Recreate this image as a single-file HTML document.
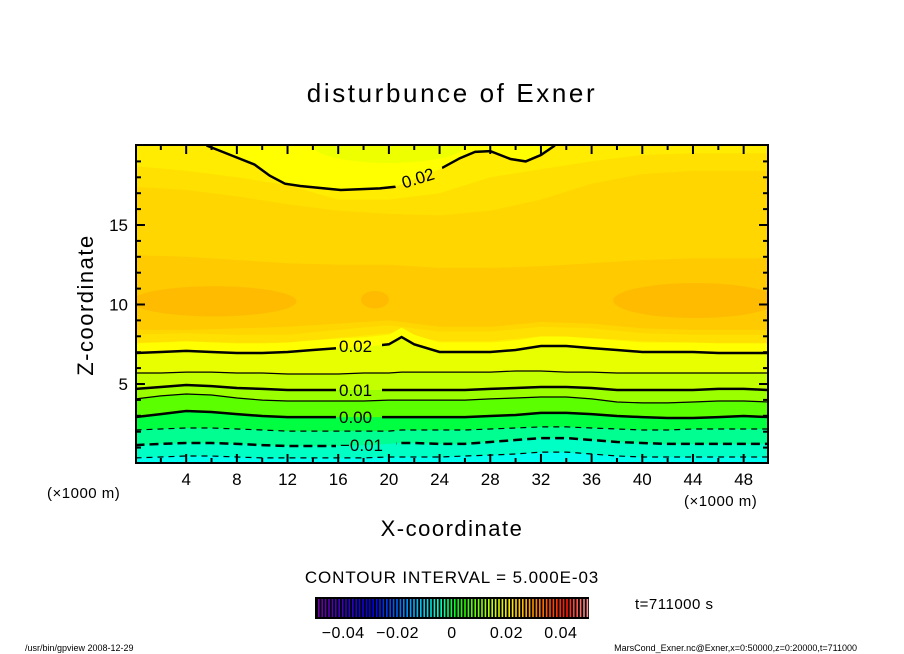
<!DOCTYPE html>
<html><head><meta charset="utf-8"><style>
body{margin:0;background:#fff;}
svg{display:block;font-family:"Liberation Sans",sans-serif;}
</style></head><body>
<svg id="chart" width="904" height="654" viewBox="0 0 904 654">
<text x="452" y="102" font-size="26" letter-spacing="2.6" text-anchor="middle">disturbunce of Exner</text>
<defs>
<clipPath id="pc"><rect x="136" y="145" width="632" height="318"/></clipPath>
<mask id="lm"><rect x="0" y="0" width="904" height="654" fill="#fff"/>
<rect x="336" y="334" width="46" height="20" fill="#000"/>
<rect x="336" y="379" width="46" height="20" fill="#000"/>
<rect x="336" y="406" width="46" height="20" fill="#000"/>
<rect x="336" y="434" width="60" height="20" fill="#000"/>
<rect x="394" y="162" width="50" height="28" fill="#000" transform="rotate(-17 418 178)"/>
</mask>
</defs>
<g id="fills" clip-path="url(#pc)"></g>
<g id="lines" clip-path="url(#pc)" mask="url(#lm)"></g>
<g font-size="17">
<text x="339" y="352">0.02</text>
<text x="339" y="396">0.01</text>
<text x="339" y="423">0.00</text>
<text x="340" y="451">−0.01</text>
<text x="418" y="184" text-anchor="middle" transform="rotate(-17 418 178)">0.02</text>
</g>
<rect x="136" y="145" width="632" height="318" fill="none" stroke="#000" stroke-width="2"/>
<g id="ticks" stroke="#000"></g>
<g id="tlabels" font-size="17"></g>
<text x="47" y="498" font-size="15" letter-spacing="0.5">(×1000 m)</text>
<text x="684" y="506" font-size="15" letter-spacing="0.5">(×1000 m)</text>
<text x="452" y="536" font-size="22" letter-spacing="1.5" text-anchor="middle">X-coordinate</text>
<text x="93" y="305" font-size="22" letter-spacing="1.5" text-anchor="middle" transform="rotate(-90 93 305)">Z-coordinate</text>
<text x="452" y="583" font-size="17" letter-spacing="0.9" text-anchor="middle">CONTOUR INTERVAL = 5.000E-03</text>
<rect x="315" y="597" width="274" height="22" fill="#000"/>
<g id="cbar"></g>
<g id="cblab" font-size="16" letter-spacing="0.5" text-anchor="middle"></g>
<text x="635" y="609" font-size="15" letter-spacing="0.5">t=711000 s</text>
<text x="25" y="651" font-size="9">/usr/bin/gpview   2008-12-29</text>
<text x="857" y="651" font-size="9" text-anchor="end">MarsCond_Exner.nc@Exner,x=0:50000,z=0:20000,t=711000</text>
</svg>
<script>
const xs=[0,2,4,6,8,10,12,14,16,18,20,21,22,24,26,28,30,32,34,36,38,40,42,44,46,48,50];
const c020=[6.95,7.01,7.08,7.01,6.95,6.95,7.01,7.14,7.26,7.33,7.5,7.95,7.5,7.01,7.01,7.01,7.14,7.39,7.39,7.26,7.14,7.01,7.01,7.01,6.95,6.95,6.95];
const c015=[5.69,5.69,5.75,5.75,5.69,5.69,5.63,5.63,5.63,5.69,5.69,5.75,5.75,5.75,5.75,5.75,5.82,5.82,5.75,5.75,5.69,5.69,5.69,5.69,5.69,5.69,5.69];
const c010=[4.69,4.81,4.94,4.87,4.75,4.69,4.62,4.62,4.62,4.62,4.62,4.62,4.62,4.62,4.62,4.69,4.75,4.81,4.81,4.75,4.62,4.62,4.62,4.62,4.69,4.69,4.62];
const c005=[4.06,4.25,4.37,4.31,4.12,3.99,3.93,3.93,3.93,3.93,3.99,3.99,3.99,3.99,3.99,4.06,4.12,4.18,4.18,4.06,3.87,3.81,3.81,3.87,3.93,3.93,3.87];
const c000=[2.92,3.11,3.30,3.24,3.11,2.99,2.92,2.92,2.92,2.92,2.92,2.92,2.92,2.92,2.92,2.99,3.05,3.18,3.18,3.11,2.99,2.92,2.86,2.86,2.92,2.99,2.92];
const cm005=[2.11,2.17,2.23,2.23,2.17,2.11,2.04,2.04,2.04,2.04,2.04,2.11,2.11,2.11,2.11,2.17,2.23,2.30,2.30,2.23,2.17,2.11,2.11,2.17,2.17,2.17,2.17];
const cm010=[1.16,1.23,1.29,1.29,1.23,1.16,1.10,1.10,1.10,1.16,1.23,1.29,1.29,1.23,1.23,1.35,1.48,1.60,1.60,1.48,1.35,1.29,1.23,1.23,1.23,1.23,1.23];
const cm015=[0.35,0.41,0.47,0.47,0.41,0.35,0.35,0.35,0.35,0.35,0.41,0.41,0.41,0.41,0.47,0.53,0.60,0.72,0.72,0.60,0.47,0.41,0.41,0.41,0.41,0.41,0.41];
const xTop=[5.6,7.5,9.4,10.6,11.8,13,16.2,19.3,20.5,24,25.6,26.8,28,29.6,30.8,32,33.1];
const zTop=[20,19.4,18.8,18.1,17.6,17.45,17.2,17.3,17.4,18.5,19.2,19.6,19.65,19.15,19.0,19.4,20];
const shadeXs=[0,4,8,12,16,20,24,28,32,36,40,44,50];
const shAlo=[7.6,7.7,7.6,7.6,7.9,8.2,7.7,7.7,8.0,7.9,7.7,7.6,7.6];
const shAhi=[18.7,18.4,18.0,17.5,16.6,16.6,17.0,18.0,18.5,19.0,19.4,19.5,19.5];
const shBlo=[8.1,8.2,8.1,8.1,8.4,8.7,8.3,8.3,8.6,8.5,8.2,8.1,8.1];
const shBhi=[17.4,17.2,16.8,16.3,15.9,15.7,15.6,15.9,16.6,17.6,18.2,18.4,18.4];
const shClo=[8.4,8.4,8.5,8.6,8.8,9.0,8.6,8.6,8.9,8.8,8.5,8.4,8.4];
const shChi=[13.1,13.0,12.8,12.6,12.5,12.5,12.3,12.3,12.4,12.6,12.8,12.9,12.9];
const blobCx=[6.2,18.9,44.2];
const blobCz=[10.2,10.3,10.25];
const blobRx=[6.5,1.1,6.5];
const blobRz=[0.95,0.55,1.1];
const cbTicks=[-0.04,-0.02,0,0.02,0.04];
const cbText=["−0.04","−0.02","0","0.02","0.04"];
const xTicks=[4,8,12,16,20,24,28,32,36,40,44,48];
const zTicks=[5,10,15];

const NS="http://www.w3.org/2000/svg";
const X=x=>135.5+x*12.67, Z=z=>463.5-z*15.9;
function mk(tag,attrs,parent){const e=document.createElementNS(NS,tag);for(const k in attrs)e.setAttribute(k,attrs[k]);parent.appendChild(e);return e;}
const F=document.getElementById('fills'),L=document.getElementById('lines');
function pts(xa,za){return xa.map((x,i)=>X(x).toFixed(1)+','+Z(za[i]).toFixed(1));}
function band(xa,lo,hi,col,name){
  const p=pts(xa,hi).concat(pts(xa,lo).reverse());
  const e=mk('polygon',{points:p.join(' '),fill:col},F);
  
  
}
function below(za,col,name){
  const p=pts(xs,za).concat([X(50)+','+Z(-1),X(0)+','+Z(-1)]);
  const e=mk('polygon',{points:p.join(' '),fill:col},F);
  
  
}
let bg=mk('rect',{x:130,y:140,width:650,height:330,fill:'#ffec00'},F);


band(shadeXs,shAlo,shAhi,'#ffe000','shade-band-a');
band(shadeXs,shBlo,shBhi,'#ffd600','shade-band-b');
band(shadeXs,shClo,shChi,'#ffca00','shade-band-c');
blobCx.forEach((cx,i)=>{
  const e=mk('ellipse',{cx:X(cx),cy:Z(blobCz[i]),rx:blobRx[i]*12.67,ry:blobRz[i]*15.9,fill:'#ffbb00'},F);
  
  
});
{const p=pts(xTop,zTop).concat([X(xTop[xTop.length-1])+','+Z(21),X(xTop[0])+','+Z(21)]);
 const e=mk('polygon',{points:p.join(' '),fill:'#ffff00'},F);
 
 
 const b=mk('ellipse',{cx:X(20),cy:Z(20),rx:6*12.67,ry:1.1*15.9,fill:'#eeff00'},F);
 
 }
const yel=c020.map(z=>z+0.6);
below(yel,'#ffff00','fill-yellow');
below(c020,'#e8ff00','fill-below-0.020');
below(c015,'#c4ff00','fill-below-0.015');
below(c010,'#9cff00','fill-below-0.010');
below(c005,'#5cff00','fill-below-0.005');
below(c000,'#00ff40','fill-below-0.000');
below(cm005,'#00ff90','fill-below-m0.005');
below(cm010,'#00ffc4','fill-below-m0.010');
below(cm015,'#00ffee','fill-below-m0.015');
function line(xa,za,w,dash,name){
  const e=mk('polyline',{points:pts(xa,za).join(' '),fill:'none',stroke:'#000','stroke-width':w,'stroke-dasharray':dash||'none'},L);
  
  
}
line(xTop,zTop,2.5,null,'contour-0.02-top');
line(xs,c020,2.5,null,'contour-0.02');
line(xs,c015,1.2,null,'contour-0.015');
line(xs,c010,2.5,null,'contour-0.01');
line(xs,c005,1.2,null,'contour-0.005');
line(xs,c000,2.5,null,'contour-0.00');
line(xs,cm005,1.2,'6 5','contour-m0.005');
line(xs,cm010,2.5,'9 5','contour-m0.01');
line(xs,cm015,1.2,'6 5','contour-m0.015');
const T=document.getElementById('ticks'),TL=document.getElementById('tlabels');
for(let x=2;x<50;x+=2){const maj=x%4===0,len=maj?9:5;
  mk('line',{x1:X(x),x2:X(x),y1:463,y2:463-len,'stroke-width':2},T);
  mk('line',{x1:X(x),x2:X(x),y1:145,y2:145+len,'stroke-width':2},T);}
for(let z=1;z<20;z++){const maj=z%5===0,len=maj?9:5;
  mk('line',{x1:136,x2:136+len,y1:Z(z),y2:Z(z),'stroke-width':2},T);
  mk('line',{x1:768,x2:768-len,y1:Z(z),y2:Z(z),'stroke-width':2},T);}
xTicks.forEach(v=>{const t=mk('text',{x:X(v),y:485,'text-anchor':'middle'},TL);t.textContent=v;
  
  });
zTicks.forEach(v=>{const t=mk('text',{x:128,y:Z(v)+6,'text-anchor':'end'},TL);t.textContent=v;
  
  });
const CB=document.getElementById('cbar'),CL=document.getElementById('cblab');
const CX=v=>452+v*2720;
function cmap(t){const st=[[0,[110,0,170]],[0.2,[0,0,230]],[0.35,[0,170,255]],[0.45,[0,255,200]],[0.52,[0,255,0]],[0.65,[200,255,0]],[0.72,[255,230,0]],[0.82,[255,120,0]],[0.92,[255,20,0]],[1,[255,150,150]]];
  for(let i=1;i<st.length;i++){if(t<=st[i][0]){const a=st[i-1],b=st[i],f=(t-a[0])/(b[0]-a[0]);return 'rgb('+a[1].map((c,k)=>Math.round(c+(b[1][k]-c)*f)).join(',')+')';}}return 'rgb(255,150,150)';}
for(let i=0;i<80;i++){const x=318+i*3.4;mk('rect',{x:x,y:599,width:1.6,height:18,fill:cmap(i/79)},CB);}
cbTicks.forEach((v,i)=>{const t=mk('text',{x:CX(v),y:638},CL);t.textContent=cbText[i];
  
  });
</script>
</body></html>
